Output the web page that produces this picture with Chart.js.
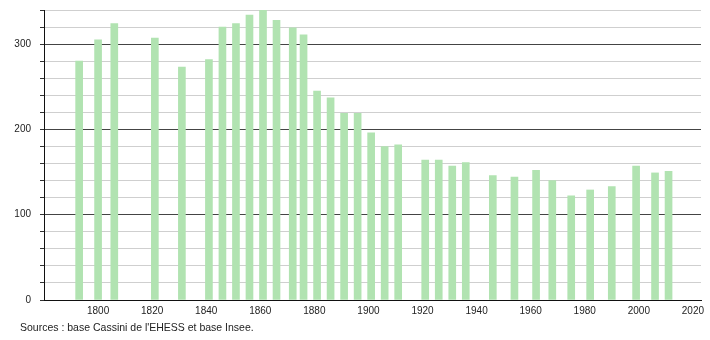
<!DOCTYPE html>
<html>
<head>
<meta charset="utf-8">
<script src="https://cdn.jsdelivr.net/npm/chart.js@4/dist/chart.umd.min.js"></script>
<style>
  html, body { margin: 0; padding: 0; background: #fff; }
  #wrap { position: relative; width: 710px; height: 340px; }
  #source {
    position: absolute; left: 20px; top: 321px;
    font: 10.5px "Liberation Sans", Arial, sans-serif; color: #222;
  }
</style>
</head>
<body>
<div id="wrap">
  <canvas id="chart" width="710" height="340"></canvas>
  <div id="source">Sources : base Cassini de l'EHESS et base Insee.</div>
</div>
<script>
// années de recensement et population
const years = [1793, 1800, 1806, 1821, 1831, 1841, 1846, 1851, 1856, 1861, 1866, 1872, 1876,
  1881, 1886, 1891, 1896, 1901, 1906, 1911, 1921, 1926, 1931, 1936, 1946, 1954, 1962,
  1968, 1975, 1982, 1990, 1999, 2006, 2011];
const population = [280, 305, 324, 307, 273, 282, 320, 324, 334, 340, 328, 319, 311,
  245, 237, 219, 219, 196, 180, 182, 164, 164, 157, 161, 146, 144, 152,
  140, 122, 129, 133, 157, 149, 151];
const xTicks = [1800, 1820, 1840, 1860, 1880, 1900, 1920, 1940, 1960, 1980, 2000, 2020];

const points = years.map((y, i) => ({ x: y, y: population[i] }));
const tickFont = { family: "'Liberation Sans', Arial, sans-serif", size: 10 };

new Chart(document.getElementById("chart"), {
  type: "bar",
  data: {
    datasets: [{
      data: points,
      backgroundColor: "#b1e3b1",
      borderWidth: 0,
      barThickness: 7
    }]
  },
  options: {
    responsive: false,
    animation: false,
    layout: { padding: { left: 0, right: 9, top: 10, bottom: 0 } },
    plugins: { legend: { display: false }, tooltip: { enabled: false } },
    scales: {
      x: {
        type: "linear",
        min: 1780,
        max: 2023,
        offset: false,
        grid: { display: false, offset: false, drawTicks: false },
        border: { display: true, color: "#111", width: 1 },
        ticks: {
          font: tickFont, color: "#222", padding: 5, maxRotation: 0, autoSkip: false,
          callback: v => String(v)
        },
        afterBuildTicks: scale => { scale.ticks = xTicks.map(v => ({ value: v })); },
        afterFit: scale => { scale.height = 40; scale.paddingLeft = 0; scale.paddingRight = 0; }
      },
      y: {
        min: 0,
        max: 340,
        grid: {
          color: ctx => (ctx.tick && ctx.tick.value % 100 === 0) ? "#444" : "#cfcfcf",
          tickColor: "#333",
          tickLength: 4
        },
        border: { display: true, color: "#111", width: 1 },
        ticks: {
          stepSize: 20,
          autoSkip: false,
          font: tickFont,
          color: "#222",
          padding: 9,
          callback: v => (v % 100 === 0 ? v : "")
        },
        afterFit: scale => { scale.width = 44; scale.paddingTop = 0; scale.paddingBottom = 0; }
      }
    }
  }
});
</script>
</body>
</html>
